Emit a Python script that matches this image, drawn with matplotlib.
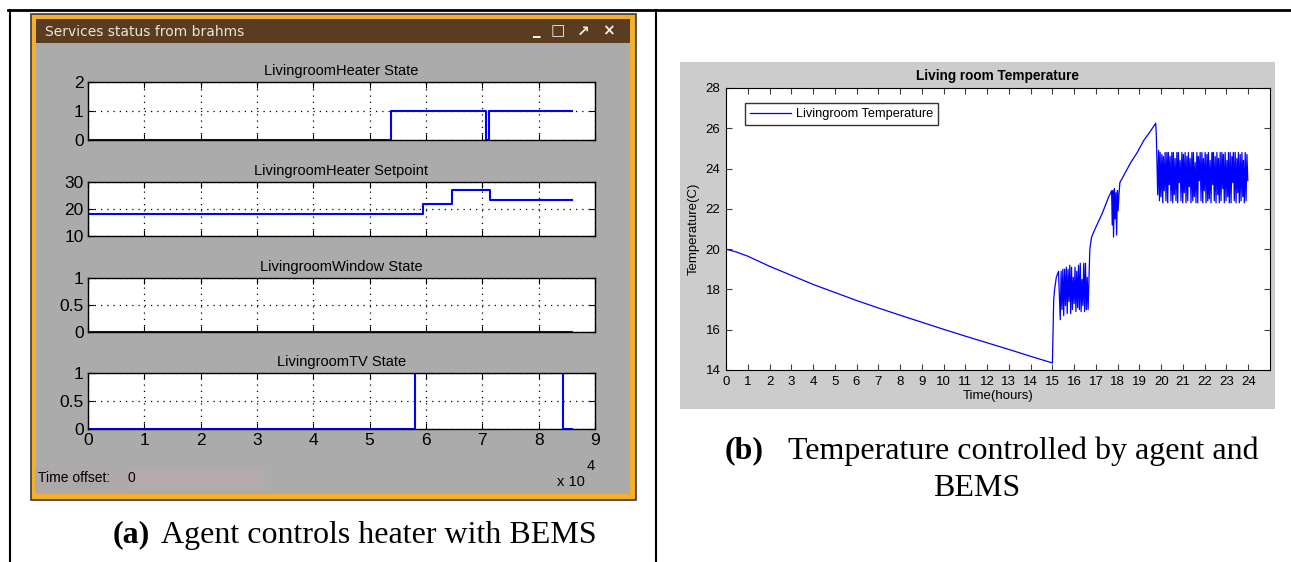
#!/usr/bin/env python

import matplotlib.pyplot as plt
from matplotlib.patches import Rectangle
from matplotlib.lines import Line2D

W, H = 1291, 562

# ---- left panel: services status (time in units of 1e4 s) ----
heater_t = [0, 5.38, 7.07, 7.12, 8.6]
heater_v = [0, 1, 0, 1, 1]

setpoint_t = [0, 0, 5.95, 6.46, 7.14, 8.6]
setpoint_v = [10, 18, 22, 27, 23.5, 23.5]

window_t = [0, 8.6]
window_v = [0, 0]

tv_t = [0, 5.8, 8.43, 8.6]
tv_v = [0, 1, 0, 0]

panel_titles = ['LivingroomHeater State', 'LivingroomHeater Setpoint',
                'LivingroomWindow State', 'LivingroomTV State']
panel_yticks = [[0, 1, 2], [10, 20, 30], [0, 0.5, 1], [0, 0.5, 1]]
panel_yticklabels = [['0', '1', '2'], ['10', '20', '30'], ['0', '0.5', '1'], ['0', '0.5', '1']]
time_ticks = [0, 1, 2, 3, 4, 5, 6, 7, 8, 9]

# ---- right panel: living room temperature ----
decay_t = [0, 0.5, 1, 2, 3, 4, 5, 6, 7, 8, 9, 10, 11, 12, 13, 14, 15]
decay_v = [20.0, 19.85, 19.65, 19.15, 18.7, 18.25, 17.85, 17.45, 17.08, 16.72, 16.37,
           16.02, 15.68, 15.35, 15.02, 14.68, 14.35]

jump_t = [15.03, 15.06, 15.1, 15.18, 15.28]
jump_v = [16.0, 17.5, 18.0, 18.6, 18.9]

osc1_t = [15.36, 15.40, 15.44, 15.48, 15.52, 15.56, 15.60, 15.64, 15.68, 15.72, 15.76,
          15.80, 15.84, 15.88, 15.92, 15.96, 16.00, 16.04, 16.08, 16.12, 16.16, 16.20,
          16.24, 16.28, 16.32, 16.36, 16.40, 16.44, 16.48, 16.52, 16.56, 16.60, 16.64]
osc1_v = [16.5, 18.9, 17.0, 19.0, 16.7, 19.0, 17.2, 19.1, 16.8, 19.0, 17.4,
          19.2, 16.8, 19.1, 17.0, 18.6, 17.3, 19.1, 16.9, 18.9, 17.1, 19.2,
          17.0, 19.3, 16.9, 18.5, 17.2, 19.3, 16.9, 19.3, 17.0, 18.6, 17.0]

rise1_t = [16.68, 16.72, 16.8, 17.0, 17.3, 17.55, 17.72]
rise1_v = [18.5, 20.0, 20.6, 21.1, 21.8, 22.5, 22.9]

osc2_t = [17.75, 17.78, 17.81, 17.85, 17.88, 17.92, 17.95, 17.99, 18.02, 18.06]
osc2_v = [21.2, 22.9, 20.6, 23.0, 21.5, 22.8, 20.7, 22.9, 21.9, 22.7]

rise2_t = [18.1, 18.3, 18.6, 18.9, 19.2, 19.5, 19.75, 19.78, 19.82, 19.84]
rise2_v = [23.3, 23.7, 24.3, 24.8, 25.4, 25.85, 26.25, 25.5, 23.5, 22.7]

osc3_peak_t = [19.88, 19.95, 20.03, 20.10, 20.18, 20.26, 20.33, 20.41, 20.49, 20.56,
               20.64, 20.72, 20.79, 20.87, 20.95, 21.02, 21.10, 21.18, 21.25, 21.33,
               21.41, 21.48, 21.56, 21.64, 21.71, 21.79, 21.87, 21.94, 22.02, 22.10,
               22.17, 22.25, 22.33, 22.40, 22.48, 22.56, 22.63, 22.71, 22.79, 22.86,
               22.94, 23.02, 23.09, 23.17, 23.25, 23.32, 23.40, 23.48, 23.55, 23.63,
               23.71, 23.78, 23.86, 23.94]
osc3_peak_v = [24.9, 24.8, 24.7, 24.6, 24.8, 24.8, 24.8, 24.6, 24.8, 24.8,
               24.5, 24.8, 24.8, 24.4, 24.8, 24.7, 24.8, 24.6, 24.8, 24.5,
               24.8, 24.8, 24.3, 24.8, 24.6, 24.8, 24.8, 24.5, 24.8, 24.7,
               24.8, 24.4, 24.8, 24.8, 24.6, 24.8, 24.5, 24.8, 24.8, 24.7,
               24.8, 24.4, 24.8, 24.8, 24.6, 24.8, 24.8, 24.5, 24.8, 24.7,
               24.8, 24.4, 24.8, 24.7]
osc3_trough_t = [19.92, 19.99, 20.07, 20.14, 20.22, 20.30, 20.37, 20.45, 20.53, 20.60,
                 20.68, 20.76, 20.83, 20.91, 20.99, 21.06, 21.14, 21.22, 21.29, 21.37,
                 21.45, 21.52, 21.60, 21.68, 21.75, 21.83, 21.91, 21.98, 22.06, 22.14,
                 22.21, 22.29, 22.37, 22.44, 22.52, 22.60, 22.67, 22.75, 22.83, 22.90,
                 22.98, 23.06, 23.13, 23.21, 23.29, 23.36, 23.44, 23.52, 23.59, 23.67,
                 23.75, 23.82, 23.90, 23.98]
osc3_trough_v = [22.4, 22.6, 22.3, 22.9, 22.4, 22.3, 23.2, 22.4, 22.3, 22.7,
                 22.4, 22.3, 23.3, 22.4, 22.3, 22.8, 22.3, 22.4, 23.1, 22.3,
                 22.4, 22.6, 22.3, 22.3, 23.4, 22.4, 22.3, 22.9, 22.3, 22.4,
                 22.5, 22.3, 23.2, 22.4, 22.3, 22.7, 22.3, 22.4, 23.0, 22.3,
                 22.4, 22.6, 22.3, 22.3, 23.3, 22.4, 22.3, 22.8, 22.3, 22.4,
                 22.6, 22.3, 22.4, 23.4]

hour_ticks = list(range(25))
temp_ticks = [14, 16, 18, 20, 22, 24, 26, 28]

temp_t = decay_t + jump_t + osc1_t + rise1_t + osc2_t + rise2_t
temp_v = decay_v + jump_v + osc1_v + rise1_v + osc2_v + rise2_v
for pt, pv, tt, tv in zip(osc3_peak_t, osc3_peak_v, osc3_trough_t, osc3_trough_v):
    temp_t += [pt, tt]
    temp_v += [pv, tv]


def rect(x0, y0, x1, y1):
    # pixel box -> figure fraction
    return [x0 / W, 1 - y1 / H, (x1 - x0) / W, (y1 - y0) / H]


def frac(x, y):
    return x / W, 1 - y / H


def add_box(x0, y0, x1, y1, **kw):
    bx, by = frac(x0, y1)
    fig.add_artist(Rectangle((bx, by), (x1 - x0) / W, (y1 - y0) / H,
                             transform=fig.transFigure, zorder=-5, **kw))


fig = plt.figure(figsize=(W / 100, H / 100), dpi=100)
fig.patch.set_facecolor('white')

# table lines
fig.add_artist(Line2D([8 / W, 1], [1 - 10 / H] * 2, color='black', lw=2))
fig.add_artist(Line2D([10 / W] * 2, [0, 1 - 10 / H], color='black', lw=1.5))
fig.add_artist(Line2D([656 / W] * 2, [0, 1 - 10 / H], color='black', lw=1.5))

# MATLAB window frame
add_box(31, 14, 636, 500, facecolor='#f4b02a', edgecolor='#3a3a3a', lw=1.2)
add_box(36, 19, 630, 494, facecolor='#ababab', edgecolor='none')
add_box(36, 19, 630, 43, facecolor='#5a3d21', edgecolor='none')
fig.text(*frac(45, 32), 'Services status from brahms', color='#ece4d8',
         fontsize=10, family='DejaVu Sans', va='center', ha='left')
for bx, s in [(537, '_'), (558, '□'), (583, '↗'), (608, '×')]:
    fig.text(*frac(bx, 31), s, color='#f0f0f0', fontsize=11, family='DejaVu Sans',
             va='center', ha='center', fontweight='bold')

# time offset box
add_box(35, 467, 127, 491, facecolor='#afa8a8', edgecolor='none')
add_box(128, 467, 265, 491, facecolor='#b3abab', edgecolor='none')
mfont = ['Liberation Sans Narrow', 'Liberation Sans']
fig.text(*frac(38, 478), 'Time offset:', fontsize=10, family=mfont, va='center')
fig.text(*frac(128, 478), '0', fontsize=10, family=mfont, va='center')
fig.text(*frac(557, 482), 'x 10', fontsize=10.5, family=mfont, va='center')
fig.text(*frac(587, 466), '4', fontsize=10.5, family=mfont, va='center')

panel_boxes = [(88, 82, 595, 140), (88, 182, 595, 236), (88, 278, 595, 332), (88, 373, 595, 429)]
panel_data = [(heater_t, heater_v), (setpoint_t, setpoint_v), (window_t, window_v), (tv_t, tv_v)]

for i, (box, (tt, vv)) in enumerate(zip(panel_boxes, panel_data)):
    ax = fig.add_axes(rect(*box))
    ax.set_zorder(2)
    ax.plot(tt, vv, color='#0000ff', lw=1.5, drawstyle='steps-post')
    ax.set_xlim(0, 9)
    ax.set_ylim(panel_yticks[i][0], panel_yticks[i][-1])
    ax.set_xticks(time_ticks)
    ax.set_yticks(panel_yticks[i])
    ax.set_yticklabels(panel_yticklabels[i], family=mfont, fontsize=12.5)
    if i == 3:
        ax.set_xticklabels([str(t) for t in time_ticks], family=mfont, fontsize=12.5)
    else:
        ax.set_xticklabels([])
    ax.grid(True, color='black', linestyle=(0, (1, 4)), lw=0.9)
    ax.tick_params(direction='in', top=True, right=True, length=4, width=0.8, pad=3)
    ax.set_title(panel_titles[i], family=mfont, fontsize=10.5, pad=5)
    for sp in ax.spines.values():
        sp.set_linewidth(1.0)

# right gray panel
add_box(680, 62, 1275, 409, facecolor='#cccccc', edgecolor='none')

ax2 = fig.add_axes(rect(726, 88, 1270, 370))
ax2.set_zorder(2)
ax2.plot(temp_t, temp_v, color='#0000ff', lw=0.9, label='Livingroom Temperature')
ax2.set_xlim(0, 25)
ax2.set_ylim(14, 28)
ax2.set_xticks(hour_ticks)
ax2.set_yticks(temp_ticks)
ax2.tick_params(direction='in', top=True, right=True, length=4, width=0.8,
                color='#404040', labelsize=9.5, pad=4)
for lab in ax2.get_xticklabels() + ax2.get_yticklabels():
    lab.set_family('Liberation Sans')
ax2.set_title('Living room Temperature', fontsize=9.8, fontweight='bold',
              family='Liberation Sans', pad=6)
ax2.set_xlabel('Time(hours)', fontsize=9.5, family='Liberation Sans', labelpad=2)
ax2.set_ylabel('Temperature(C)', fontsize=9.5, family='Liberation Sans', labelpad=4)
leg = ax2.legend(loc='upper left', bbox_to_anchor=(19 / 544, 1 - 15 / 282),
                 borderaxespad=0, fancybox=False, edgecolor='black', handlelength=3.2,
                 handletextpad=0.4, prop={'family': 'Liberation Sans', 'size': 9.2},
                 borderpad=0.4)
leg.get_frame().set_linewidth(1.0)

# captions
serif = 'Liberation Serif'
fig.text(*frac(113, 535), '(a)', fontsize=23, family=serif, fontweight='bold', va='center')
fig.text(*frac(161, 535), 'Agent controls heater with BEMS', fontsize=23, family=serif,
         va='center')
fig.text(*frac(725, 451), '(b)', fontsize=23, family=serif, fontweight='bold', va='center')
fig.text(*frac(788, 451), 'Temperature controlled by agent and', fontsize=23, family=serif,
         va='center')
fig.text(*frac(977, 488), 'BEMS', fontsize=23, family=serif, va='center', ha='center')

fig.savefig('out.png', dpi=100)
